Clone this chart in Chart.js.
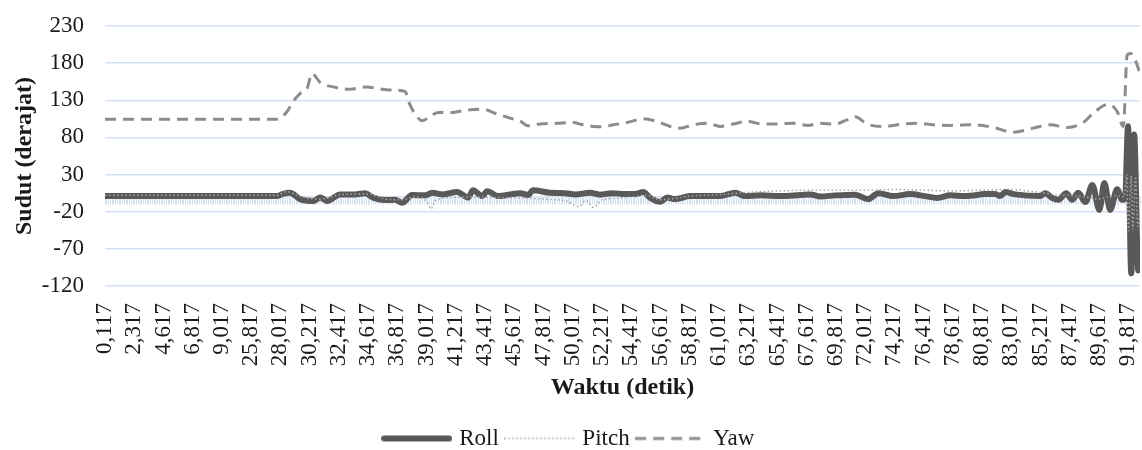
<!DOCTYPE html>
<html>
<head>
<meta charset="utf-8">
<script src="https://cdn.jsdelivr.net/npm/chart.js@4.4.1/dist/chart.umd.min.js"></script>
<style>
  html, body { margin: 0; padding: 0; background: #ffffff; }
  #wrap { width: 1142px; height: 450px; position: relative; }
</style>
</head>
<body>
<div id="wrap"><canvas id="imu_chart"></canvas></div>
<script>
// tick labels of the time axis (seconds, comma decimal)
var timeLabels = ['0,117', '2,317', '4,617', '6,817', '9,017', '25,817', '28,017', '30,217', '32,417',
    '34,617', '36,817', '39,017', '41,217', '43,417', '45,617', '47,817', '50,017', '52,217', '54,417',
    '56,617', '58,817', '61,017', '63,217', '65,417', '67,617', '69,817', '72,017', '74,217', '76,417',
    '78,617', '80,817', '83,017', '85,217', '87,417', '89,617', '91,817'];

// sample positions are in label steps (0 = first label, 35 = last label)
var rollAt = [0, 5.88, 6.09, 6.33, 6.67, 7.12, 7.36, 7.6, 8.04, 8.55, 8.9, 9.17, 9.58, 9.92, 10.16,
    10.5, 10.95, 11.19, 11.56, 12.04, 12.42, 12.59, 12.9, 13.07, 13.45, 13.92, 14.2, 14.47, 14.64, 15.22,
    15.74, 16.08, 16.59, 16.93, 17.35, 17.79, 18.13, 18.41, 18.65, 18.99, 19.23, 19.5, 20.01, 20.53, 21.04,
    21.55, 21.9, 22.41, 23.09, 23.78, 24.12, 24.46, 24.97, 25.66, 26.1, 26.45, 26.96, 27.54, 28.05, 28.46,
    28.91, 29.42, 30.11, 30.45, 30.62, 30.79, 31.13, 31.99, 32.16, 32.4, 32.6, 32.88, 33.08, 33.29, 33.53,
    33.77, 34.01, 34.18, 34.38, 34.62, 34.79, 34.89, 34.99, 35.1, 35.2, 35.34, 35.4];
var roll = [1, 1, 4, 5.5, -3, -5.6, -1, -5.5, 3.3, 3.3, 5, -1, -4.3, -4, -8,
    2.4, 2, 5.5, 3.3, 6.7, -1, 9, 1, 7.7, 1, 3.7, 5, 2.4, 9, 5.5,
    5, 3.3, 5.5, 3, 5, 3.7, 3.7, 6.4, -1.6, -6.7, -1, -3, 1, 1, 1,
    5.5, 1, 2, 1, 2.5, 3.3, 0.5, 2, 3, -3, 5, 1, 3.7, 1, -1.5,
    2, 1, 3.7, 4, 1, 6.4, 3.3, 1, 5, -1.6, -4, 5, -4, 5.5, -7,
    16, -17.6, 18.5, -17.6, 10.4, -4, -1.6, 95, -103, 84, -99, -96];

var pitchAt = [0, 5.88, 6.2, 6.6, 7.1, 7.6, 8.0, 9.0, 9.6, 10.2, 10.6, 11.0, 11.15, 11.3, 11.8,
    12.5, 13.5, 14.5, 15.0, 15.8, 16.2, 16.45, 16.7, 17.0, 17.5, 18.0, 18.5, 19.0, 19.5, 20.0,
    21, 22, 23, 24, 25, 26, 27, 28, 29, 30, 31, 31.5, 32, 32.5, 33,
    33.5, 34, 34.5, 34.85, 34.95, 35.0, 35.1, 35.15, 35.25, 35.32, 35.4];
var pitch = [2, 2, 7, 2, -3, -2, 3, 4, -3, -4, 0, -6, -16, -5, -1,
    0, -1, -2, -3, -6, -13, -5, -14, -4, -2, 0, 2, -4, -2, 1,
    3, 6, 8, 9, 9, 9, 10, 9, 8, 9, 10, 8, 6, 3, 2,
    0, -3, 2, 0, 30, -46, 28, -44, 25, -40, -20];

var yawAt = [0, 5.88, 6.23, 6.43, 6.67, 6.91, 7.08, 7.36, 7.8, 8.38, 8.96, 9.31, 9.75, 10.26, 10.43,
    10.67, 10.85, 11.12, 11.39, 11.87, 12.25, 12.93, 13.34, 13.86, 14.2, 14.47, 14.88, 15.46, 16.01, 16.35,
    16.7, 17.04, 17.38, 17.86, 18.41, 18.88, 19.33, 19.67, 20.12, 20.63, 21.04, 21.48, 21.96, 22.41, 22.85,
    23.54, 24.05, 24.46, 24.97, 25.38, 25.66, 26.07, 26.62, 27.3, 27.81, 28.33, 28.91, 29.7, 30.38, 31.06,
    31.75, 32.33, 32.91, 33.46, 33.8, 34.31, 34.62, 34.83, 34.96, 35.07, 35.24, 35.4];
var yaw = [104.5, 104.5, 115, 128, 139, 145.6, 166, 154, 148, 145, 148, 146, 144, 142, 124,
    108, 102.4, 108, 113.5, 113.5, 116, 118, 112.6, 106, 102, 95.7, 98, 99, 100, 97,
    94.8, 94.4, 97, 100, 105, 101.5, 94.8, 92.5, 97, 99, 94.8, 98, 101.5, 98.5, 98,
    99, 96.2, 99, 98, 103.7, 108, 98, 94.8, 98, 99, 97, 96.2, 97, 93.4, 87,
    92.5, 97, 93.4, 100, 112.6, 124.6, 115, 94.8, 190.8, 193, 184, 166];

var X_MAX = 35.4;
var GRID_COLOR = '#d6e1f1';
var SAMPLE_W = 71;

function points(xs, ys) {
    return xs.map(function(x, i) { return {x: x, y: ys[i]}; });
}

// small canvas used as legend sample, so the dash pattern shows in the legend
function legendSample(color, width, dash) {
    var c = document.createElement('canvas');
    c.width = SAMPLE_W;
    c.height = 8;
    var g = c.getContext('2d');
    g.strokeStyle = color;
    g.lineWidth = width;
    g.lineCap = dash.length ? 'butt' : 'round';
    g.setLineDash(dash);
    g.beginPath();
    g.moveTo(dash.length ? 0 : 3, 4);
    g.lineTo(dash.length ? SAMPLE_W : SAMPLE_W - 3, 4);
    g.stroke();
    return c;
}

Chart.defaults.font.family = '"Liberation Serif", "Times New Roman", serif';
Chart.defaults.color = '#1a1a1a';

var ctx = document.getElementById('imu_chart').getContext('2d');
var imuChart = new Chart(ctx, {
    type: 'line',
    data: {
        datasets: [{
            label: 'Roll',
            data: points(rollAt, roll),
            borderColor: '#595959',
            backgroundColor: '#595959',
            borderWidth: 6,
            pointStyle: legendSample('#595959', 6, []),
            order: 2
        }, {
            label: 'Pitch',
            data: points(pitchAt, pitch),
            borderColor: '#a6a6a6',
            backgroundColor: '#a6a6a6',
            borderWidth: 1.5,
            borderDash: [1.5, 2.5],
            pointStyle: legendSample('#a6a6a6', 1.5, [1.5, 2.5]),
            order: 1
        }, {
            label: 'Yaw',
            data: points(yawAt, yaw),
            borderColor: '#8c8c8c',
            backgroundColor: '#8c8c8c',
            borderWidth: 3,
            borderDash: [11, 7],
            pointStyle: legendSample('#8c8c8c', 3, [11, 7]),
            order: 0
        }]
    },
    options: {
        responsive: true,
        maintainAspectRatio: false,
        animation: false,
        elements: {
            point: { radius: 0, hoverRadius: 0 },
            line: { cubicInterpolationMode: 'monotone', borderCapStyle: 'butt' }
        },
        layout: {
            padding: { left: 0, right: 2, top: 26, bottom: -10 }
        },
        plugins: {
            title: { display: false },
            tooltip: { enabled: false },
            legend: {
                display: true,
                position: 'bottom',
                labels: {
                    usePointStyle: true,
                    pointStyleWidth: 62,
                    padding: 10,
                    color: '#1a1a1a',
                    font: { size: 23, lineHeight: 1.1 },
                    sort: function(a, b) { return a.datasetIndex - b.datasetIndex; }
                }
            }
        },
        scales: {
            x: {
                type: 'linear',
                position: 'bottom',
                min: 0,
                max: X_MAX,
                grid: { display: false },
                border: { display: false },
                ticks: {
                    stepSize: 1,
                    includeBounds: false,
                    autoSkip: false,
                    minRotation: 90,
                    maxRotation: 90,
                    padding: 9,
                    font: { size: 23 },
                    callback: function(value) {
                        return timeLabels[value] !== undefined ? timeLabels[value] : '';
                    }
                },
                title: {
                    display: true,
                    text: 'Waktu (detik)',
                    font: { size: 24, weight: 'bold' },
                    padding: { top: 4, bottom: 15 }
                },
                afterFit: function(scale) {
                    scale.height = 131;
                    scale.paddingLeft = 0;
                    scale.paddingRight = 0;
                }
            },
            // category axis line crossing at zero, with its dense tick marks
            xZero: {
                type: 'linear',
                position: { y: 0 },
                min: 0,
                max: X_MAX,
                grid: {
                    display: true,
                    drawOnChartArea: false,
                    drawTicks: true,
                    tickLength: 7,
                    color: GRID_COLOR,
                    lineWidth: 1
                },
                border: { display: true, color: GRID_COLOR, width: 1.5 },
                ticks: { display: false, stepSize: 0.06 }
            },
            y: {
                min: -120,
                max: 230,
                grid: { color: GRID_COLOR, lineWidth: 1.5, drawTicks: false },
                border: { display: false },
                ticks: {
                    stepSize: 50,
                    padding: 21,
                    font: { size: 23 }
                },
                title: {
                    display: true,
                    text: 'Sudut (derajat)',
                    font: { size: 24, weight: 'bold' },
                    padding: { top: 10, bottom: 0 }
                },
                afterFit: function(scale) {
                    scale.width = 105;
                    scale.paddingTop = 0;
                    scale.paddingBottom = 0;
                }
            }
        }
    }
});
</script>
</body>
</html>
